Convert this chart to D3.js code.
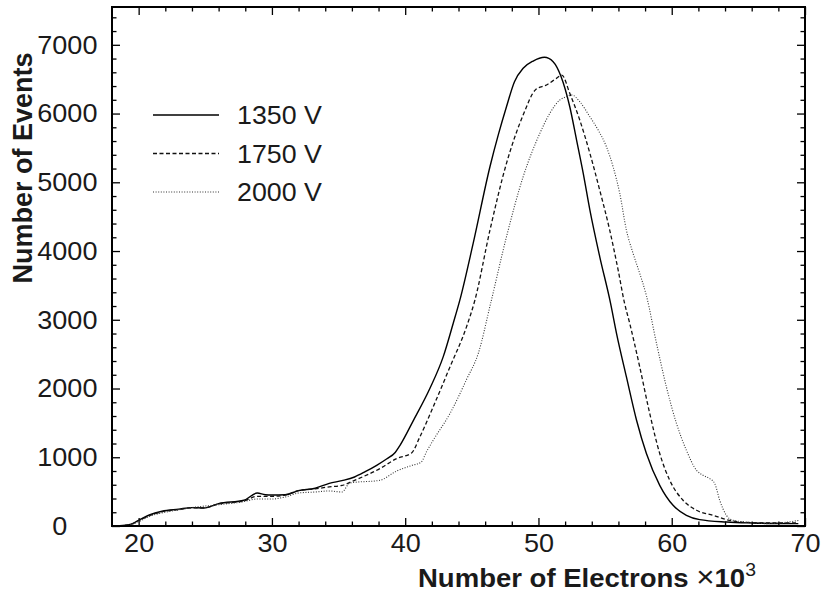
<!DOCTYPE html>
<html>
<head>
<meta charset="utf-8">
<script src="https://cdn.jsdelivr.net/npm/d3@7"></script>
<style>
  html, body { margin: 0; padding: 0; background: #fff; }
  svg { display: block; }
  text { font-family: "Liberation Sans", Arial, Helvetica, sans-serif; fill: #1a1a1a; }
</style>
</head>
<body>
<svg id="chart" width="822" height="593"></svg>
<script>
// Electron-count spectra at three operating voltages (x in units of 10^3 electrons)
const seriesNames = ["1350 V", "1750 V", "2000 V"];

const x1350 = [18.0, 19.0, 19.5, 20.0, 20.8, 21.75, 23.0, 24.0, 24.9, 26.0, 27.9, 28.9, 29.5, 30.0, 31.0, 32.0, 33.25, 34.3, 35.25, 36.2, 37.0, 37.86, 38.6, 39.25, 39.6, 40.6, 41.85, 42.85, 43.6, 44.1, 45.1, 46.36, 47.0, 47.6, 48.2, 48.85, 49.6, 50.45, 51.1, 51.7, 52.35, 52.86, 53.36, 53.86, 54.6, 55.4, 55.86, 56.6, 57.36, 58.1, 59.1, 60.1, 61.1, 62.1, 64.1, 66.1, 69.5];
const n1350 = [0, 10, 30, 83, 160, 215, 245, 268, 262, 326, 374, 480, 455, 451, 455, 515, 549, 620, 660, 713, 790, 883, 975, 1070, 1170, 1530, 2000, 2460, 2946, 3285, 4111, 5226, 5700, 6099, 6463, 6658, 6764, 6818, 6754, 6536, 6099, 5614, 5130, 4595, 3916, 3250, 2800, 2169, 1539, 1054, 592, 301, 156, 93, 58, 44, 35];

const x1750 = [18.0, 19.0, 19.5, 20.0, 20.8, 21.75, 23.0, 24.0, 24.9, 26.0, 27.9, 28.9, 30.0, 31.0, 32.0, 33.25, 34.3, 35.25, 36.2, 38.1, 39.36, 40.48, 41.1, 42.1, 43.36, 44.6, 45.23, 46.36, 47.6, 48.85, 49.8, 50.6, 51.35, 51.75, 52.35, 53.1, 53.86, 54.6, 55.35, 55.98, 56.45, 56.85, 57.6, 58.35, 59.1, 59.85, 60.85, 61.86, 63.1, 64.1, 65.1, 67.1, 69.5];
const n1750 = [0, 10, 30, 80, 150, 205, 240, 265, 265, 320, 365, 432, 432, 450, 515, 540, 570, 590, 665, 835, 981, 1063, 1296, 1733, 2314, 2897, 3285, 4304, 5275, 5978, 6350, 6415, 6512, 6560, 6294, 5905, 5421, 4883, 4301, 3722, 3250, 2946, 2314, 1636, 1054, 665, 374, 229, 156, 93, 58, 44, 44];

const x2000 = [18.0, 19.0, 19.5, 20.0, 20.8, 21.75, 23.0, 24.0, 26.0, 27.9, 28.9, 30.0, 31.0, 32.0, 33.25, 34.25, 35.25, 35.85, 38.1, 39.36, 40.48, 41.2, 41.6, 42.1, 43.36, 44.6, 45.5, 46.4, 47.6, 48.85, 50.1, 50.85, 51.6, 52.1, 52.5, 53.1, 53.86, 54.48, 55.1, 55.6, 56.1, 56.6, 57.1, 57.6, 58.1, 58.86, 59.6, 60.36, 61.1, 61.86, 62.35, 62.85, 63.23, 63.6, 64.1, 64.6, 65.6, 67.1, 68.1, 69.5];
const n2000 = [0, 10, 25, 63, 140, 190, 235, 268, 310, 355, 393, 393, 422, 480, 495, 510, 495, 626, 665, 800, 880, 930, 1080, 1247, 1636, 2130, 2520, 3230, 4207, 5080, 5710, 6003, 6197, 6245, 6270, 6172, 5953, 5760, 5517, 5226, 4838, 4304, 3965, 3674, 3350, 2655, 2023, 1490, 1102, 811, 738, 690, 617, 374, 156, 83, 58, 35, 44, 80];

// Axis tick values
const xMajorTicks = [20, 30, 40, 50, 60, 70];
const xMinorTicks = [22, 24, 26, 28, 32, 34, 36, 38, 42, 44, 46, 48, 52, 54, 56, 58, 62, 64, 66, 68];
const yMajorTicks = [0, 1000, 2000, 3000, 4000, 5000, 6000, 7000];
const yMinorTicks = [200, 400, 600, 800, 1200, 1400, 1600, 1800, 2200, 2400, 2600, 2800, 3200, 3400, 3600, 3800, 4200, 4400, 4600, 4800, 5200, 5400, 5600, 5800, 6200, 6400, 6600, 6800, 7200, 7400];

const xTitle = "Number of Electrons ";
const yTitle = "Number of Events";

// Layout
const plot = { left: 112, top: 7, right: 805, bottom: 526 };

const svg = d3.select("#chart");

const x = d3.scaleLinear().domain([18, 70]).range([plot.left, plot.right]);
const y = d3.scaleLinear().domain([0, 7550]).range([plot.bottom, plot.top]);

const majorLen = 8, minorLen = 4.5;
const labelStretch = 1.04;   // the tick font is set slightly wide

function styleAxis(g) {
  g.select(".domain").remove();
  g.selectAll(".tick line").attr("stroke", "#000").attr("stroke-width", 1.3);
  g.selectAll(".tick text")
    .attr("font-family", '"Liberation Sans", Arial, Helvetica, sans-serif')
    .attr("font-size", 26)
    .attr("fill", "#1a1a1a");
}

// Bottom axis (labels) + minor ticks
svg.append("g").attr("transform", `translate(0,${plot.bottom})`)
  .call(d3.axisBottom(x).tickValues(xMajorTicks).tickSize(-majorLen).tickPadding(8).tickFormat(d3.format("d")))
  .call(styleAxis)
  .call(g => g.selectAll(".tick text").attr("transform", `scale(${labelStretch},1)`));
svg.append("g").attr("transform", `translate(0,${plot.bottom})`)
  .call(d3.axisBottom(x).tickValues(xMinorTicks).tickSize(-minorLen).tickFormat(""))
  .call(styleAxis);

// Top axis mirror ticks
svg.append("g").attr("transform", `translate(0,${plot.top})`)
  .call(d3.axisTop(x).tickValues(xMajorTicks).tickSize(-majorLen).tickFormat(""))
  .call(styleAxis);
svg.append("g").attr("transform", `translate(0,${plot.top})`)
  .call(d3.axisTop(x).tickValues(xMinorTicks).tickSize(-minorLen).tickFormat(""))
  .call(styleAxis);

// Left axis (labels) + minor ticks; the zero label sits further left
svg.append("g").attr("transform", `translate(${plot.left},0)`)
  .call(d3.axisLeft(y).tickValues(yMajorTicks).tickSize(-majorLen).tickPadding(14).tickFormat(d3.format("d")))
  .call(styleAxis)
  .call(g => g.selectAll(".tick text")
    .attr("transform", `scale(${labelStretch},1)`)
    .filter(d => d === 0).attr("x", -43));
svg.append("g").attr("transform", `translate(${plot.left},0)`)
  .call(d3.axisLeft(y).tickValues(yMinorTicks).tickSize(-minorLen).tickFormat(""))
  .call(styleAxis);

// Right axis mirror ticks
svg.append("g").attr("transform", `translate(${plot.right},0)`)
  .call(d3.axisRight(y).tickValues(yMajorTicks).tickSize(-majorLen).tickFormat(""))
  .call(styleAxis);
svg.append("g").attr("transform", `translate(${plot.right},0)`)
  .call(d3.axisRight(y).tickValues(yMinorTicks).tickSize(-minorLen).tickFormat(""))
  .call(styleAxis);

// Curves
const lineStyles = [
  { stroke: "#000", width: 1.4, dash: null },
  { stroke: "#111", width: 1.3, dash: "4,2.5" },
  { stroke: "#333", width: 1.1, dash: "1,1.6" }
];

const seriesData = [
  d3.zip(x1350, n1350),
  d3.zip(x1750, n1750),
  d3.zip(x2000, n2000)
];

const line = d3.line()
  .x(d => x(d[0]))
  .y(d => y(d[1]))
  .curve(d3.curveMonotoneX);

const curves = svg.append("g");
seriesData.forEach((pts, i) => {
  const s = lineStyles[i];
  curves.append("path")
    .datum(pts)
    .attr("fill", "none")
    .attr("stroke", s.stroke)
    .attr("stroke-width", s.width)
    .attr("stroke-dasharray", s.dash)
    .attr("stroke-linejoin", "round")
    .attr("d", line);
});

// Frame
svg.append("rect")
  .attr("x", plot.left).attr("y", plot.top)
  .attr("width", plot.right - plot.left).attr("height", plot.bottom - plot.top)
  .attr("fill", "none").attr("stroke", "#000").attr("stroke-width", 2);

// Legend
const legend = svg.append("g").attr("transform", "translate(153,115)");
seriesNames.forEach((name, i) => {
  const s = lineStyles[i];
  const row = legend.append("g").attr("transform", `translate(0,${i * 38.5})`);
  row.append("line")
    .attr("x1", 0).attr("x2", 66).attr("y1", 0).attr("y2", 0)
    .attr("stroke", s.stroke).attr("stroke-width", s.width)
    .attr("stroke-dasharray", s.dash);
  row.append("text")
    .attr("transform", "translate(84,0) scale(1.03,1)")
    .attr("dy", "0.35em")
    .attr("font-size", 26)
    .text(name);
});

// Axis titles
const xt = svg.append("text")
  .attr("transform", "translate(418,587) scale(1.08,1)")
  .attr("font-size", 25.5);
xt.append("tspan").attr("font-weight", "bold").text(xTitle);
xt.append("tspan").attr("font-weight", "normal").attr("font-size", 29).text("\u00d7");
xt.append("tspan").attr("font-weight", "bold").text("10");
xt.append("tspan").attr("font-weight", "normal").attr("font-size", 18).attr("dy", -11).text("3");

svg.append("text")
  .attr("transform", "translate(32,168) rotate(-90)")
  .attr("text-anchor", "middle")
  .attr("font-size", 27)
  .attr("font-weight", "bold")
  .text(yTitle);
</script>
</body>
</html>
